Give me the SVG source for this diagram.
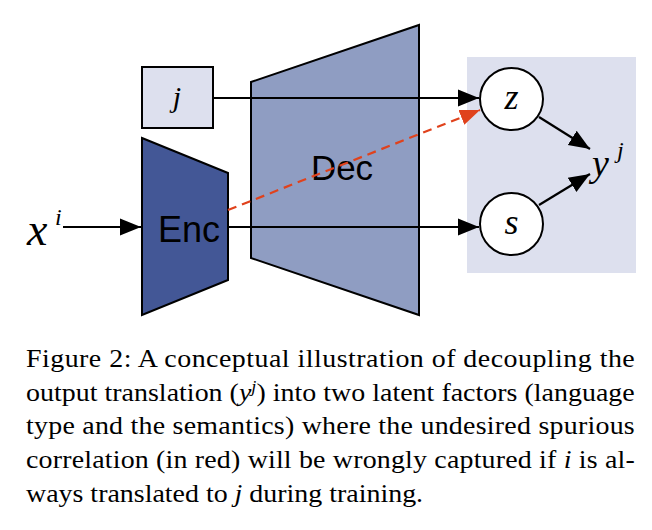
<svg xmlns="http://www.w3.org/2000/svg" width="652" height="530" viewBox="0 0 652 530">
<defs>
<style>
.ln{stroke:#000;stroke-width:2.2;fill:none}
.sans{font-family:"Liberation Sans",Arial,sans-serif;fill:#000}
.math{font-family:"Liberation Serif","Times New Roman",serif;font-style:italic;fill:#000}
.cap{font-family:"Liberation Serif","Times New Roman",serif;font-size:24.5px;fill:#000}
</style>
<marker id="ah" viewBox="0 0 10 10" refX="10" refY="5" markerWidth="21" markerHeight="21" orient="auto" markerUnits="userSpaceOnUse">
<path d="M0,1 L10,5 L0,9 z" fill="#000"/>
</marker>
<marker id="ahr" viewBox="0 0 10 10" refX="10" refY="5" markerWidth="20" markerHeight="20" orient="auto" markerUnits="userSpaceOnUse">
<path d="M0,1 L10,5 L0,9 z" fill="#e0421c"/>
</marker>
</defs>
<rect width="652" height="530" fill="#fff"/>
<g id="panel"><rect x="467" y="57" width="169" height="216" fill="#dde0ee"/></g>
<g id="dec">
<polygon points="251,82 419,25 419,315 251,258" fill="#8f9dc2" stroke="#000" stroke-width="2"/>
<text class="sans" x="342" y="180" font-size="35" text-anchor="middle">Dec</text>
</g>
<g id="jbox">
<rect x="142" y="67" width="71" height="61" fill="#dde0ee" stroke="#000" stroke-width="2"/>
<text class="math" x="177" y="107" font-size="30" text-anchor="middle">j</text>
</g>
<g id="enc">
<polygon points="142,138 228,173 228,280 142,315" fill="#435796" stroke="#000" stroke-width="2"/>
<text class="sans" x="189" y="242" font-size="36" text-anchor="middle">Enc</text>
</g>
<g id="xi">
<text class="math" x="27" y="245" font-size="46">x</text>
<text class="math" x="55" y="225" font-size="24">i</text>
</g>
<g id="connectors">
<line class="ln" x1="63" y1="227" x2="141" y2="227" marker-end="url(#ah)"/>
<line class="ln" x1="213" y1="98" x2="479" y2="98" marker-end="url(#ah)"/>
<line class="ln" x1="228" y1="227" x2="479" y2="227" marker-end="url(#ah)"/>
<line x1="228" y1="210" x2="480" y2="110" stroke="#e0421c" stroke-width="2.2" stroke-dasharray="9,6" marker-end="url(#ahr)"/>
<line class="ln" x1="539" y1="117" x2="590" y2="149" marker-end="url(#ah)"/>
<line class="ln" x1="539" y1="205" x2="590" y2="174" marker-end="url(#ah)"/>
</g>
<g id="z">
<ellipse cx="511.5" cy="99" rx="31.5" ry="31" fill="#fff" stroke="#000" stroke-width="2"/>
<text class="math" x="511.5" y="109" font-size="36" text-anchor="middle">z</text>
</g>
<g id="s">
<ellipse cx="511.5" cy="224" rx="31.5" ry="31" fill="#fff" stroke="#000" stroke-width="2"/>
<text class="math" x="511.5" y="234" font-size="36" text-anchor="middle">s</text>
</g>
<g id="yj">
<text class="math" x="592" y="176" font-size="38">y</text>
<text class="math" x="617" y="158" font-size="24">j</text>
</g>
<g id="caption" transform="translate(26,0) scale(1.14,1)">
<text class="cap" x="0" y="367" textLength="534" lengthAdjust="spacing">Figure 2:  A conceptual illustration of decoupling the</text>
<text class="cap" x="0" y="401" textLength="534" lengthAdjust="spacing">output translation (<tspan font-style="italic">y</tspan><tspan font-style="italic" font-size="16" dy="-9">j</tspan><tspan dy="9">) into two latent factors (language</tspan></text>
<text class="cap" x="0" y="434" textLength="534" lengthAdjust="spacing">type and the semantics) where the undesired spurious</text>
<text class="cap" x="0" y="468" textLength="534" lengthAdjust="spacing">correlation (in red) will be wrongly captured if <tspan font-style="italic">i</tspan> is al-</text>
<text class="cap" x="0" y="502">ways translated to <tspan font-style="italic">j</tspan> during training.</text>
</g>
</svg>
